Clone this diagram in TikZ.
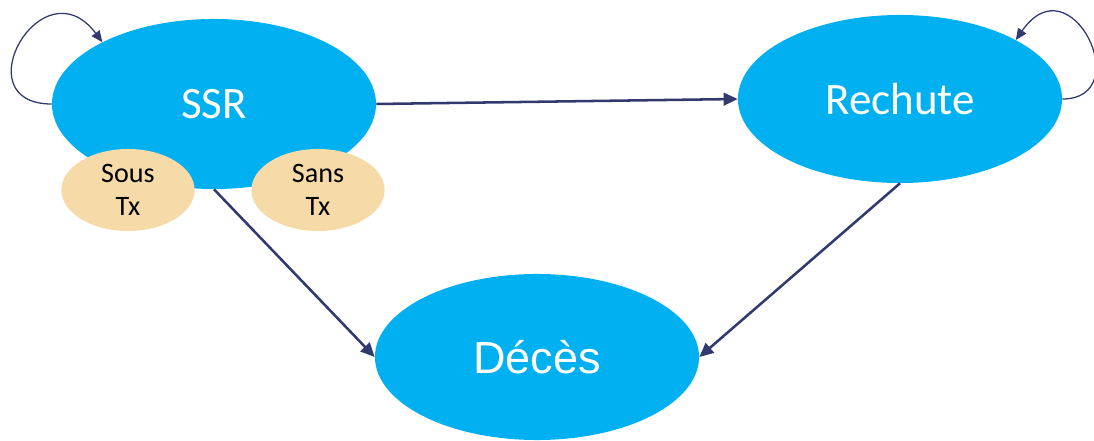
\documentclass[tikz,border=0pt]{standalone}
\usepackage{fontspec}
\setmainfont{Carlito}
\newfontfamily\arialfont{Liberation Sans}
\usetikzlibrary{arrows.meta,shapes.geometric}
\definecolor{stateblue}{HTML}{00B0F0}
\definecolor{txbeige}{RGB}{246,218,168}
\definecolor{arrownavy}{RGB}{48,58,110}

\begin{document}
\begin{tikzpicture}[
        x=0.025cm, y=0.025cm,
        state/.style={ellipse, fill=stateblue, text=white, inner sep=0pt,
                minimum width=8.1cm, minimum height=4.2cm,
                font=\fontsize{32}{38}\selectfont},
        txstate/.style={ellipse, fill=txbeige, text=black, inner sep=0pt,
                align=center, minimum width=3.33cm, minimum height=2.05cm,
                font=\fontsize{20}{24}\selectfont},
        link/.style={draw=arrownavy, line width=1.8pt,
                -{Triangle[length=10pt,width=9pt]}},
        selfloop/.style={draw=arrownavy, line width=0.9pt,
                -{Triangle[length=8pt,width=7pt]}}
    ]
    \useasboundingbox (0,0) rectangle (1094,441);

    \node[state, minimum height=4.25cm] (ssr) at (214,337) {SSR};
    \node[state] (rechute) at (900,342) {Rechute};
    \node[state, minimum height=4.15cm, font=\arialfont\fontsize{32}{38}\selectfont] (deces) at (537,84) {Décès};
    \node[txstate] (soustx) at (128,251) {Sous\\Tx};
    \node[txstate] (sanstx) at (318,251) {Sans\\Tx};

    \draw[link] (ssr.east) -- (rechute.west);
    \draw[link] (ssr.south) -- (deces.west);
    \draw[link] (rechute.south) -- (deces.east);

    % self loops
    \draw[selfloop] (ssr.west) .. controls +(-90,0) and +(-60,80) .. (ssr.151);
    \draw[selfloop] (rechute.east) .. controls +(75,0) and +(55,80) .. (rechute.27);
\end{tikzpicture}
\end{document}
